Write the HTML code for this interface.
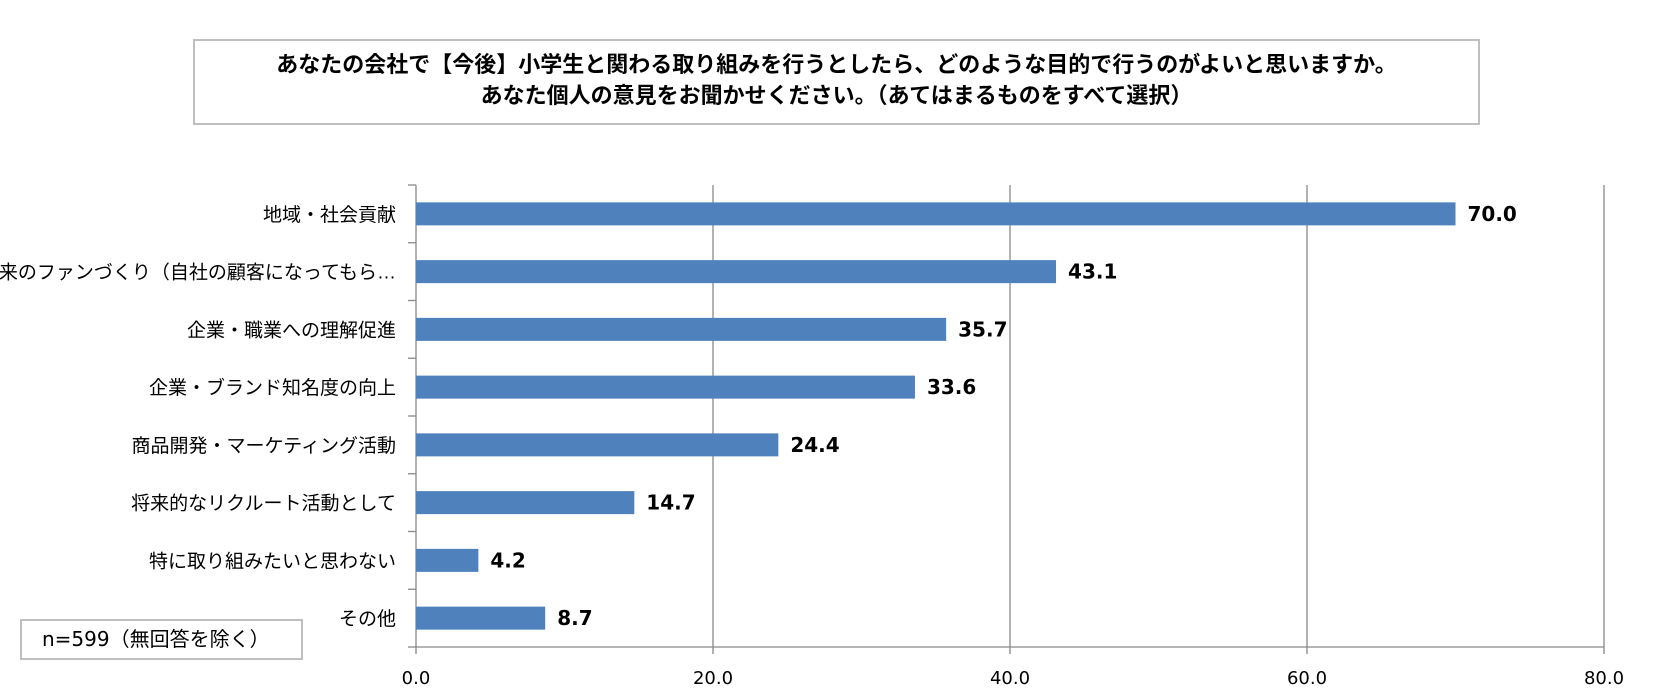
<!DOCTYPE html>
<html><head><meta charset="utf-8"><style>
body{margin:0;width:1662px;height:693px;background:#fff;overflow:hidden;font-family:"Liberation Sans","Noto Sans CJK JP",sans-serif;}
#title{position:absolute;left:193px;top:39px;width:1287px;height:86px;border:2px solid #bfbfbf;box-sizing:border-box;text-align:center;font-weight:bold;font-size:22px;line-height:31px;padding-top:8px;color:#000;}
#nbox{position:absolute;left:20px;top:619px;width:283px;height:41px;border:2px solid #bfbfbf;box-sizing:border-box;font-size:20px;line-height:37px;padding-left:20px;font-family:"DejaVu Sans","Noto Sans CJK JP",sans-serif;}
</style></head><body>
<div id="title">あなたの会社で【今後】小学生と関わる取り組みを行うとしたら、どのような目的で行うのがよいと思いますか。<br>あなた個人の意見をお聞かせください。（あてはまるものをすべて選択）</div>
<svg id="chart" width="1662" height="693" style="position:absolute;left:0;top:0"></svg>
<div id="nbox">n=599（無回答を除く）</div>
<script>
const categories=["地域・社会貢献","将来のファンづくり（自社の顧客になってもら…","企業・職業への理解促進","企業・ブランド知名度の向上","商品開発・マーケティング活動","将来的なリクルート活動として","特に取り組みたいと思わない","その他"];
const values=[70.0,43.1,35.7,33.6,24.4,14.7,4.2,8.7];
const ticks=[0,20,40,60,80];
const NS="http://www.w3.org/2000/svg";
const svg=document.getElementById('chart');
const x0=416,pxPer=14.85,top0=185,rowH=57.75,barH=23;
const xs=v=>x0+v*pxPer;
const bottom=top0+rowH*categories.length;
function mk(t,a){const e=document.createElementNS(NS,t);for(const k in a)e.setAttribute(k,a[k]);svg.appendChild(e);return e;}
ticks.forEach(t=>{
 if(t>0){const g=mk('line',{x1:xs(t),x2:xs(t),y1:top0,y2:bottom,stroke:'#888','stroke-width':1.3});
 
 }
 const l=mk('text',{x:xs(t),y:684,'text-anchor':'middle','font-size':18,fill:'#000','font-family':'DejaVu Sans, sans-serif'});
 
 
 l.textContent=t.toFixed(1);
});
const ax=mk('line',{x1:x0,x2:x0,y1:top0,y2:bottom,stroke:'#888','stroke-width':1.3});


const bx=mk('line',{x1:x0,x2:xs(80),y1:bottom,y2:bottom,stroke:'#888','stroke-width':1.3});


for(let i=0;i<=categories.length;i++){const y=top0+i*rowH;mk('line',{x1:x0-8,x2:x0,y1:y,y2:y,stroke:'#888','stroke-width':1.3});}
ticks.forEach(t=>{mk('line',{x1:xs(t),x2:xs(t),y1:bottom,y2:bottom+7,stroke:'#888','stroke-width':1.3});});
categories.forEach((c,i)=>{
 const cy=top0+rowH*(i+0.5);
 const b=mk('rect',{x:x0,y:cy-barH/2,width:xs(values[i])-x0,height:barH,fill:'#4f81bd'});
 
 
 const v=mk('text',{x:xs(values[i])+12,y:cy+7,'font-size':20,'font-weight':'bold',fill:'#000','font-family':'DejaVu Sans, sans-serif'});
 
 
 v.textContent=values[i].toFixed(1);
 const l=mk('text',{x:x0-20,y:cy+7,'text-anchor':'end','font-size':19,fill:'#000'});
 
 
 l.textContent=c;
});
</script>
</body></html>
